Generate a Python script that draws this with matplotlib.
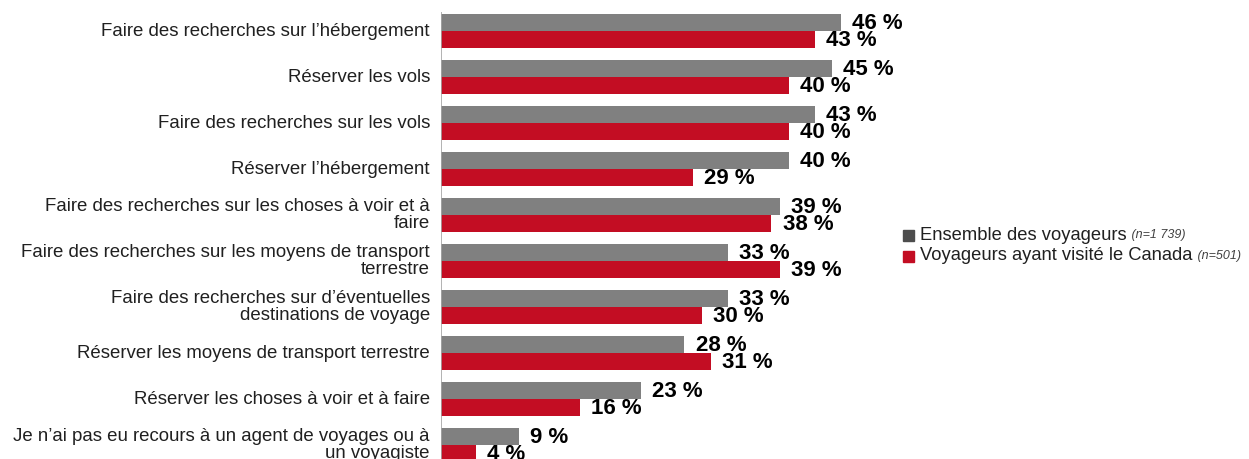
import matplotlib
matplotlib.use("Agg")
import matplotlib.pyplot as plt
from matplotlib.patches import Rectangle

plt.rcParams['font.family'] = ['Liberation Sans', 'DejaVu Sans']

categories = [
    "Faire des recherches sur l\u2019h\u00e9bergement",
    "R\u00e9server les vols",
    "Faire des recherches sur les vols",
    "R\u00e9server l\u2019h\u00e9bergement",
    "Faire des recherches sur les choses \u00e0 voir et \u00e0\nfaire",
    "Faire des recherches sur les moyens de transport\nterrestre",
    "Faire des recherches sur d\u2019\u00e9ventuelles\ndestinations de voyage",
    "R\u00e9server les moyens de transport terrestre",
    "R\u00e9server les choses \u00e0 voir et \u00e0 faire",
    "Je n\u2019ai pas eu recours \u00e0 un agent de voyages ou \u00e0\nun voyagiste",
]
tous = [46, 45, 43, 40, 39, 33, 33, 28, 23, 9]
canada = [43, 40, 40, 29, 38, 39, 30, 31, 16, 4]
legend_names = ["Ensemble des voyageurs", "Voyageurs ayant visit\u00e9 le Canada"]
legend_n = ["(n=1 739)", "(n=501)"]

GRIS = "#808080"
ROUGE = "#c30d23"

fig = plt.figure(figsize=(12.49, 4.59), dpi=100)
ax = fig.add_axes([441 / 1249, 0, 800 / 1249, 1])

h = 0.37
ypos = list(range(len(categories)))
ax.barh([y - h / 2 for y in ypos], tous, height=h, color=GRIS)
ax.barh([y + h / 2 for y in ypos], canada, height=h, color=ROUGE)

for y, v in zip(ypos, tous):
    ax.annotate(f"{v} %", (v, y - h / 2), xytext=(8, -1), textcoords="offset points",
                ha="left", va="center", fontsize=16, fontweight="bold", color="black")
for y, v in zip(ypos, canada):
    ax.annotate(f"{v} %", (v, y + h / 2), xytext=(8, -0.5), textcoords="offset points",
                ha="left", va="center", fontsize=16, fontweight="bold", color="black")

for y, c in zip(ypos, categories):
    ax.annotate(c, (0, y), xytext=(-8, 0), textcoords="offset points",
                ha="right", va="center", multialignment="right",
                fontsize=13.4, linespacing=0.95, color="#202020")

ax.vlines(0, -0.42, 9.4, color="#a6a6a6", linewidth=1.2)
ax.set_xlim(0, 92)
ax.set_ylim(9.304, -0.674)
ax.axis("off")

# legende
rows_y = [1 - 235 / 459, 1 - 256 / 459]
for name, n, col, yy in zip(legend_names, legend_n, ["#4d4d4d", ROUGE], rows_y):
    fig.patches.append(Rectangle((903 / 1249, yy - 5.5 / 459), 11 / 1249, 11 / 459,
                                 transform=fig.transFigure, color=col))
    t = fig.text(920 / 1249, yy, name, fontsize=13.2, va="center", ha="left", color="#202020")
    ax.annotate(" " + n, xy=(1, 0), xycoords=t, xytext=(1, 1.5), textcoords="offset points",
                ha="left", va="bottom", fontsize=9, style="italic", color="#404040",
                annotation_clip=False)

fig.savefig("out.png", dpi=100)
